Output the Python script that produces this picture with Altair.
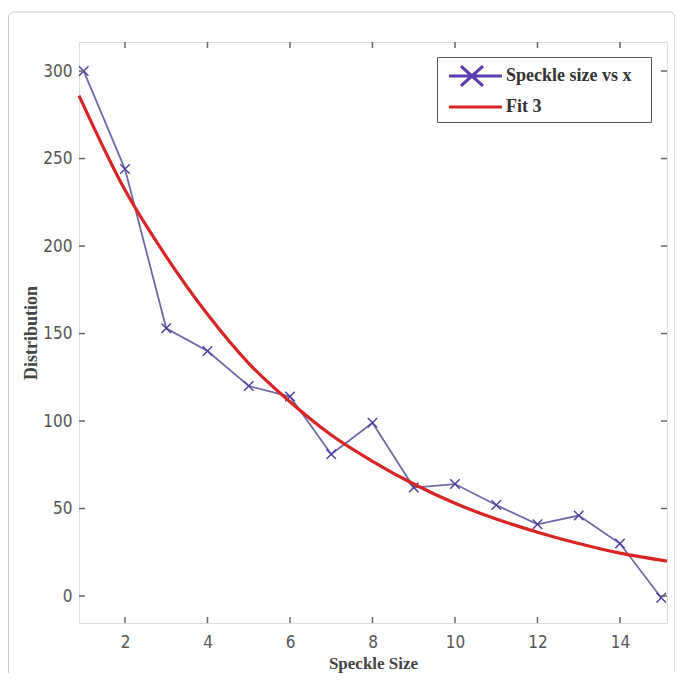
import altair as alt
import pandas as pd

# ---- data ----
sizes = [1, 2, 3, 4, 5, 6, 7, 8, 9, 10, 11, 12, 13, 14, 15]
dist = [300, 244, 153, 140, 120, 114, 81, 99, 62, 64, 52, 41, 46, 30, -1]

fit_x = [0.885, 2, 3, 4, 5, 6, 7, 8, 9, 10, 11, 12, 13, 14, 15.14]
fit_y = [286, 232, 194, 161, 133, 111, 92, 77, 64, 53, 44, 36.5, 30, 24.5, 20]

x_ticks = [2, 4, 6, 8, 10, 12, 14]
y_ticks = [0, 50, 100, 150, 200, 250, 300]
series_names = ["Speckle size vs x", "Fit 3"]

W, H = 588, 581
TICK = 6

obs = pd.DataFrame({"x": sizes, "y": dist, "series": series_names[0]})
fit = pd.DataFrame({"x": fit_x, "y": fit_y, "series": series_names[1]})
xt = pd.DataFrame({"x": x_ticks})
yt = pd.DataFrame({"y": y_ticks})
leg = pd.DataFrame({"x": [sizes[0], sizes[0]], "y": [dist[0], dist[0]], "series": series_names})

label_font = "'Liberation Sans Narrow', 'DejaVu Sans Condensed', sans-serif"
title_font = "Liberation Serif"

xscale = alt.Scale(domain=[0.885, 15.14], nice=False, zero=False)
yscale = alt.Scale(domain=[-15.4, 316.6], nice=False, zero=False)

xaxis = alt.Axis(values=x_ticks, ticks=False, domain=False, grid=False,
                 labelFont=label_font, labelFontSize=17, labelColor="#555",
                 labelPadding=11, title="Speckle Size", titleFont=title_font,
                 titleFontWeight="bold", titleFontSize=17, titleColor="#444",
                 titlePadding=5, zindex=1)
yaxis = alt.Axis(values=y_ticks, ticks=False, domain=False, grid=False,
                 labelFont=label_font, labelFontSize=17, labelColor="#555",
                 labelPadding=7, title="Distribution", titleFont=title_font,
                 titleFontWeight="bold", titleFontSize=18, titleColor="#444",
                 titlePadding=2, zindex=1)

xenc = alt.X("x:Q", scale=xscale, axis=xaxis)
yenc = alt.Y("y:Q", scale=yscale, axis=yaxis)

# outer rounded frame of the figure
frame = alt.Chart(pd.DataFrame({"a": [0]})).mark_rect(
    fillOpacity=0, stroke="#c8c8c8", strokeWidth=1, cornerRadius=6, clip=False
).encode(x=alt.value(-70.5), x2=alt.value(596), y=alt.value(-30), y2=alt.value(640))

obs_line = alt.Chart(obs).mark_line(color="#6d6aa8", strokeWidth=1.8).encode(x=xenc, y=yenc)
obs_pts = alt.Chart(obs).mark_point(
    shape="M-1,-1L1,1M-1,1L1,-1", filled=False, size=90, strokeWidth=1.4,
    color="#4a3ea2", opacity=1
).encode(x=xenc, y=yenc)
fit_line = alt.Chart(fit).mark_line(color="#d92424", strokeWidth=3.2,
                                     interpolate="monotone").encode(x=xenc, y=yenc)

tick_color = "#666"
t_bottom = alt.Chart(xt).mark_rule(color=tick_color, strokeWidth=1.5).encode(
    x=xenc, y=alt.value(H), y2=alt.value(H - TICK))
t_top = alt.Chart(xt).mark_rule(color=tick_color, strokeWidth=1.5).encode(
    x=xenc, y=alt.value(0), y2=alt.value(TICK))
t_left = alt.Chart(yt).mark_rule(color=tick_color, strokeWidth=1.5).encode(
    y=yenc, x=alt.value(0), x2=alt.value(TICK))
t_right = alt.Chart(yt).mark_rule(color=tick_color, strokeWidth=1.5).encode(
    y=yenc, x=alt.value(W), x2=alt.value(W - TICK))

path_a = "M-0.64,0H4.18M0.45,-0.9L2.45,0.9M0.45,0.9L2.45,-0.9"
path_b = "M-0.64,0H4.18"

legend = alt.Legend(title=None, orient="none", legendX=358, legendY=15,
                    strokeColor="#555", fillColor="white", padding=6,
                    symbolSize=484, symbolStrokeWidth=3.2, symbolOpacity=1,
                    labelFont=title_font, labelFontWeight="bold", labelFontSize=18,
                    labelColor="#333", labelOffset=37, rowPadding=1,
                    labelExpr="datum.label + '\u2800'")

legend_layer = alt.Chart(leg).transform_filter("false").mark_point(filled=False).encode(
    x=xenc, y=yenc,
    color=alt.Color("series:N", scale=alt.Scale(domain=series_names,
                                                range=["#5a3cae", "#d92424"]),
                    legend=legend),
    shape=alt.Shape("series:N", scale=alt.Scale(domain=series_names,
                                                range=[path_a, path_b]),
                    legend=legend),
)

chart = alt.layer(
    frame, obs_line, obs_pts, fit_line, t_bottom, t_top, t_left, t_right, legend_layer
).properties(
    width=W, height=H,
    padding={"left": 71, "top": 34, "right": 8, "bottom": 50},
    autosize=alt.AutoSizeParams(type="none"),
).configure_view(stroke="#6e6e6e", strokeWidth=1.5).configure(background="white")

chart.save("out.html", embed_options={"renderer": "svg", "actions": False})
